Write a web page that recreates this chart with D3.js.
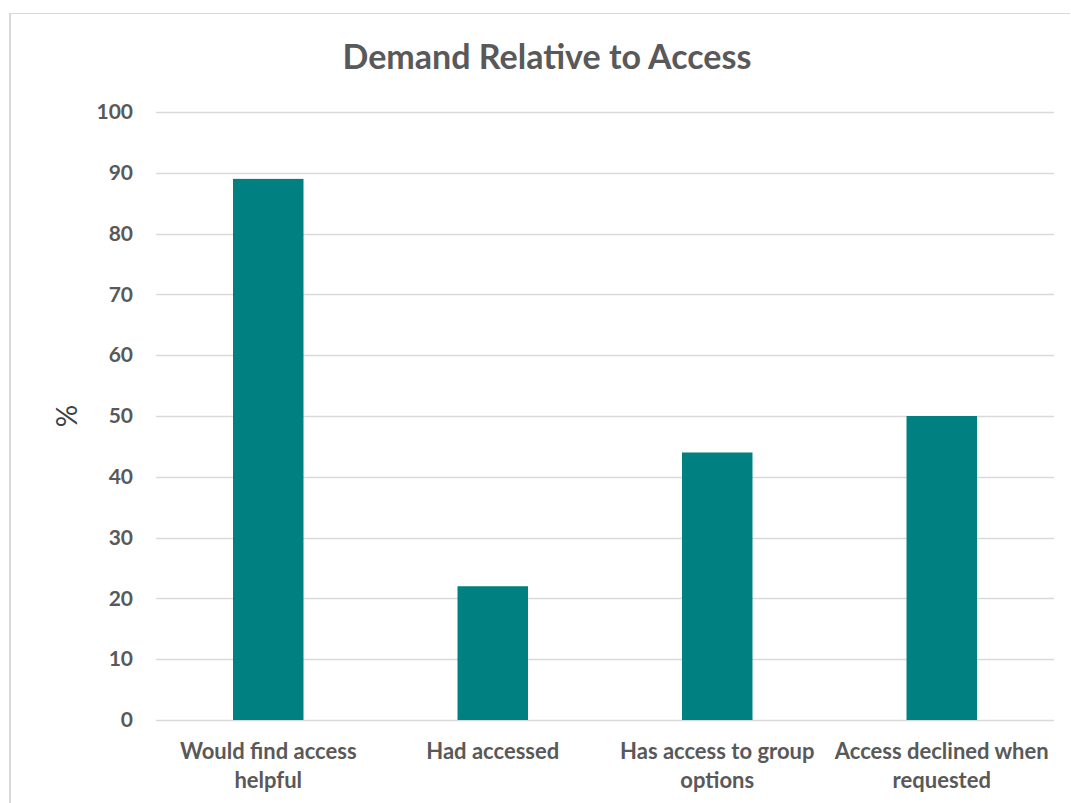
<!DOCTYPE html>
<html><head><meta charset="utf-8">
<script src="https://cdn.jsdelivr.net/npm/d3@7"></script>
<style>body{margin:0;background:#fff}svg{display:block}</style>
</head><body>
<script>
const categories = [["Would find access","helpful"],["Had accessed"],["Has access to group","options"],["Access declined when","requested"]];
const values = [89, 22, 44, 50];
const yTicks = [0,10,20,30,40,50,60,70,80,90,100];
const title = "Demand Relative to Access";
const yLabel = "%";

(function(){
const W = 1071, H = 803;
const svg = d3.select("body").append("svg").attr("width", W).attr("height", H);
const font = "Lato, 'Open Sans', sans-serif";
const textColor = "#595959";

// outer border
svg.append("line").attr("x1",10).attr("x2",10).attr("y1",13).attr("y2",H).attr("stroke","#d9d9d9").attr("stroke-width",2);
svg.append("line").attr("x1",9).attr("x2",1070).attr("y1",13.5).attr("y2",13.5).attr("stroke","#d9d9d9").attr("stroke-width",1);

const pLeft = 156, pRight = 1054, pTop = 112, pBottom = 720;
const x = d3.scaleBand().domain(d3.range(categories.length)).range([pLeft, pRight]).padding(0);
const y = d3.scaleLinear().domain([0,100]).range([pBottom, pTop]);

// gridlines
svg.append("g").selectAll("line").data(yTicks).join("line")
  .attr("x1", pLeft).attr("x2", pRight)
  .attr("y1", d => Math.round(y(d))+0.5).attr("y2", d => Math.round(y(d))+0.5)
  .attr("stroke", "#d9d9d9").attr("stroke-width", 1.5);

// y tick labels
const yAxis = d3.axisLeft(y).tickValues(yTicks).tickSize(0).tickPadding(0);
const gy = svg.append("g").attr("transform", `translate(${pLeft-23},0)`).call(yAxis);
gy.select(".domain").remove();
gy.selectAll("text").attr("font-family", font).attr("font-weight", "bold").attr("font-size", 21).attr("fill", textColor);

// bars
const barFrac = 0.314;
svg.append("g").selectAll("rect").data(values).join("rect")
  .attr("x", (d,i) => x(i) + x.bandwidth()*(1-barFrac)/2)
  .attr("width", x.bandwidth()*barFrac)
  .attr("y", d => y(d))
  .attr("height", d => y(0) - y(d))
  .attr("fill", "#008080");

// x labels
const xl = svg.append("g").selectAll("text").data(categories).join("text")
  .attr("x", (d,i) => x(i) + x.bandwidth()/2)
  .attr("y", 759)
  .attr("text-anchor", "middle")
  .attr("font-family", font).attr("font-weight", "bold").attr("font-size", 22).attr("fill", textColor);
xl.selectAll("tspan").data(d => d).join("tspan")
  .attr("x", function(){ return this.parentNode.getAttribute("x"); })
  .attr("dy", (d,i) => i === 0 ? 0 : 28.5)
  .text(d => d);

// title
svg.append("text").attr("x", 547).attr("y", 69).attr("text-anchor", "middle")
  .attr("font-family", font).attr("font-weight", "bold").attr("font-size", 34).attr("fill", textColor)
  .text(title);

// y label
svg.append("text").attr("transform", "translate(77,416) rotate(-90)").attr("text-anchor", "middle")
  .attr("font-family", font).attr("font-size", 28).attr("fill", "#404040").text(yLabel);
})();
</script>
</body></html>
